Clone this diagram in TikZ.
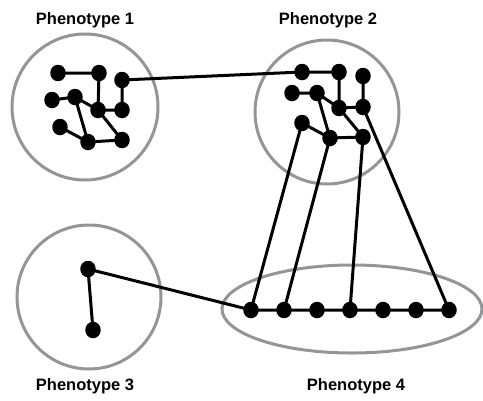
\documentclass[tikz,border=0pt]{standalone}
\usepackage{fontspec}
\setmainfont{Liberation Sans}
\usetikzlibrary{shapes.geometric}
\definecolor{ringgray}{RGB}{148,149,152}
\begin{document}
\begin{tikzpicture}[x=1pt,y=-1pt,
  dot/.style={ellipse,fill=black,inner sep=0pt,minimum width=15.5pt,minimum height=16.5pt},
  edge/.style={line width=3pt,black},
  ring/.style={draw=ringgray,line width=3pt},
  lbl/.style={font=\fontsize{16.5}{18}\selectfont\bfseries}]
\useasboundingbox (0,0) rectangle (483,400);
% rings
\draw[ring] (85,107) circle (73);
\draw[ring] (327,112) circle (72);
\draw[ring] (89,297) circle (72);
\draw[ring] (352,309) ellipse (130 and 44);
% labels
\node[lbl] (l1) at (85,20) {Phenotype 1};
\node[lbl] (l2) at (328,20) {Phenotype 2};
\node[lbl] (l3) at (85,386) {Phenotype 3};
\node[lbl] (l4) at (356,386) {Phenotype 4};
% phenotype 1 nodes
\node[dot] (a1) at (58,73) {};
\node[dot] (a2) at (99,73) {};
\node[dot] (a3) at (122,80) {};
\node[dot] (a4) at (52,100) {};
\node[dot] (a5) at (75,97) {};
\node[dot] (a6) at (98,110) {};
\node[dot] (a7) at (122,110) {};
\node[dot] (a8) at (60,127) {};
\node[dot] (a9) at (88,142) {};
\node[dot] (a10) at (122,140) {};
% phenotype 2 nodes
\node[dot] (b1) at (302,72) {};
\node[dot] (b2) at (339,72) {};
\node[dot] (b3) at (363,76) {};
\node[dot] (b4) at (292,93) {};
\node[dot] (b5) at (317,93) {};
\node[dot] (b6) at (339,108) {};
\node[dot] (b7) at (363,107) {};
\node[dot] (b8) at (302,123) {};
\node[dot] (b9) at (330,138) {};
\node[dot] (b10) at (363,137) {};
% phenotype 3 nodes
\node[dot] (d1) at (88,269) {};
\node[dot] (d2) at (93,330) {};
% phenotype 4 nodes
\foreach \i/\x in {1/251,2/284,3/317,4/350,5/383,6/416,7/449}
  \node[dot] (c\i) at (\x,310) {};
% edges
\draw[edge] (a1.center) -- (a2.center) -- (a6.center) -- (a7.center) -- (a3.center) -- (b1.center) -- (b2.center) -- (b6.center) -- (b7.center) -- (b3.center);
\draw[edge] (a4.center) -- (a5.center) -- (a6.center) -- (a10.center) -- (a9.center) -- (a8.center);
\draw[edge] (a5.center) -- (a9.center);
\draw[edge] (b4.center) -- (b5.center) -- (b6.center) -- (b10.center) -- (b9.center) -- (b8.center);
\draw[edge] (b5.center) -- (b9.center);
\draw[edge] (b8.center) -- (c1.center);
\draw[edge] (b9.center) -- (c2.center);
\draw[edge] (b10.center) -- (c4.center);
\draw[edge] (b7.center) -- (c7.center);
\draw[edge] (d2.center) -- (d1.center) -- (c1.center) -- (c2.center) -- (c3.center) -- (c4.center) -- (c5.center) -- (c6.center) -- (c7.center);
\end{tikzpicture}
\end{document}
